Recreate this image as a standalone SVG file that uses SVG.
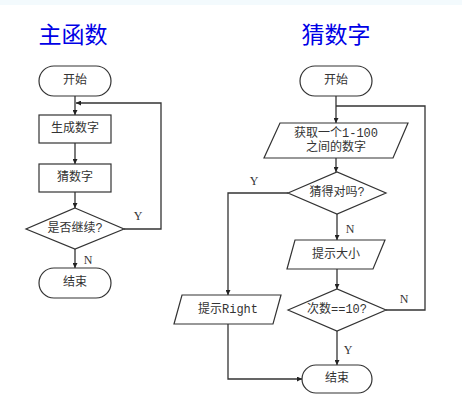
<svg xmlns="http://www.w3.org/2000/svg" width="462" height="410" viewBox="0 0 462 410">
<style>
.s{fill:#fff;stroke:#333;stroke-width:1.2}
.c{fill:none;stroke:#333;stroke-width:1.3}
.t{font-family:"Liberation Mono","Noto Sans CJK SC",monospace;font-size:12px;fill:#333;text-anchor:middle;dominant-baseline:central}
.h{font-family:"Noto Sans CJK SC",sans-serif;font-size:23px;fill:#0000e6;text-anchor:middle;dominant-baseline:central}
.l{font-family:"Liberation Serif","Noto Sans CJK SC",serif;font-size:12px;fill:#333;text-anchor:middle;dominant-baseline:central}
</style>
<defs>
<marker id="a" viewBox="0 0 10 10" refX="10" refY="5" markerWidth="5" markerHeight="5" orient="auto" markerUnits="userSpaceOnUse"><path d="M0,0L10,5L0,10z" fill="#222"/></marker>
</defs>
<rect x="0" y="0" width="462" height="5" fill="#f3fafd"/>
<text class="h" x="73" y="33">主函数</text>
<text class="h" x="336" y="33">猜数字</text>
<g id="connectors">
<path class="c" d="M75,96V115" marker-end="url(#a)"/>
<path class="c" d="M75,143V164" marker-end="url(#a)"/>
<path class="c" d="M75,192V208" marker-end="url(#a)"/>
<path class="c" d="M124,229H161V103H76" marker-end="url(#a)"/>
<path class="c" d="M75,249V268" marker-end="url(#a)"/>
<path class="c" d="M336,96V123" marker-end="url(#a)"/>
<path class="c" d="M336,158V172" marker-end="url(#a)"/>
<path class="c" d="M288,193H228V295" marker-end="url(#a)"/>
<path class="c" d="M337,214V240" marker-end="url(#a)"/>
<path class="c" d="M337,269V289" marker-end="url(#a)"/>
<path class="c" d="M337,331V365" marker-end="url(#a)"/>
<path class="c" d="M228,324V379H302" marker-end="url(#a)"/>
<path class="c" d="M386,310H425V106H336"/>
<text class="l" x="138" y="216">Y</text>
<text class="l" x="88" y="260">N</text>
<text class="l" x="254" y="181">Y</text>
<text class="l" x="350" y="229">N</text>
<text class="l" x="404" y="299">N</text>
<text class="l" x="348" y="350">Y</text>
</g>
<g id="start1"><rect class="s" x="39" y="66" width="72" height="30" rx="15"/><text class="t" x="75" y="81">开始</text></g>
<g id="gen"><rect class="s" x="39" y="115" width="72" height="28"/><text class="t" x="75" y="129">生成数字</text></g>
<g id="guess"><rect class="s" x="39" y="164" width="72" height="28"/><text class="t" x="75" y="178">猜数字</text></g>
<g id="cont"><path class="s" d="M75,208L124,229L75,249L26,229z"/><text class="t" x="75" y="229">是否继续?</text></g>
<g id="end1"><rect class="s" x="39" y="268" width="72" height="30" rx="15"/><text class="t" x="75" y="283">结束</text></g>
<g id="start2"><rect class="s" x="300" y="66" width="72" height="30" rx="15"/><text class="t" x="336" y="81">开始</text></g>
<g id="get"><path class="s" d="M280,123H408L393,158H264z"/><text class="t" x="336" y="134">获取一个1-100</text><text class="t" x="336" y="148">之间的数字</text></g>
<g id="right"><path class="s" d="M288,193L337,172L386,193L337,214z"/><text class="t" x="337" y="193">猜得对吗?</text></g>
<g id="hint"><path class="s" d="M295,240H385L373,269H287z"/><text class="t" x="336" y="255">提示大小</text></g>
<g id="count"><path class="s" d="M288,310L337,289L386,310L337,331z"/><text class="t" x="337" y="310">次数==10?</text></g>
<g id="rightmsg"><path class="s" d="M182,295H281L273,324H174z"/><text class="t" x="228" y="310">提示Right</text></g>
<g id="end2"><rect class="s" x="302" y="365" width="70" height="28" rx="14"/><text class="t" x="337" y="379">结束</text></g>
</svg>
